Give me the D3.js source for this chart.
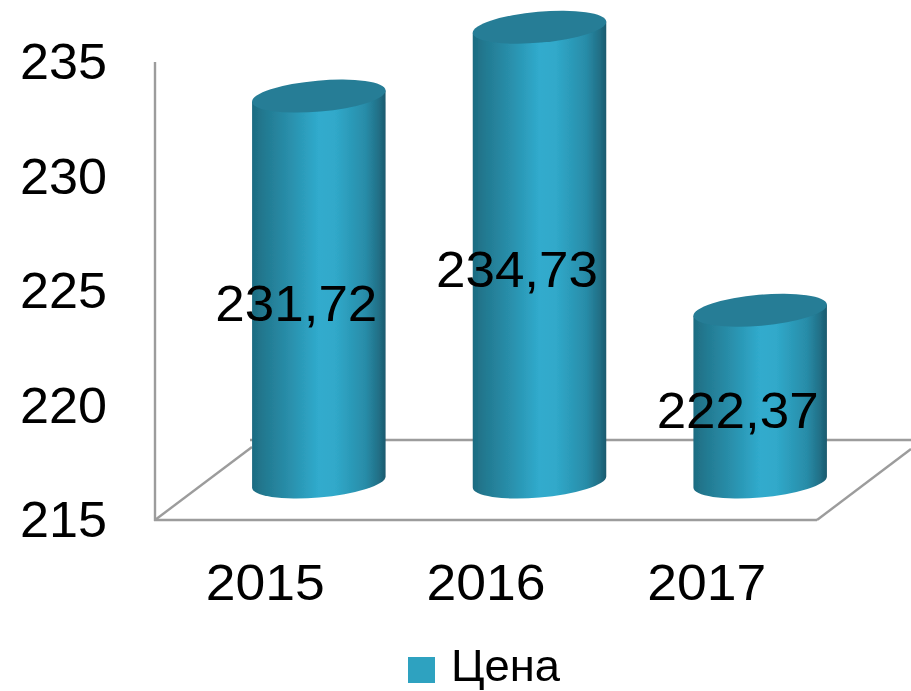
<!DOCTYPE html>
<html><head><meta charset="utf-8">
<script src="https://cdn.jsdelivr.net/npm/d3@7"></script>
<style>html,body{margin:0;padding:0;background:#fff;overflow:hidden}svg{display:block}text{font-family:"Liberation Sans",sans-serif;fill:#000}</style>
</head><body><svg width="911" height="691"></svg>
<script>
const categories = ["2015","2016","2017"];
const values = [231.72,234.73,222.37];
const valueLabels = ["231,72","234,73","222,37"];
const yTicks = [215,220,225,230,235];
const seriesName = "Цена";

const root = d3.select("svg");
const defs = root.append("defs");
defs.append("filter").attr("id","soft").attr("filterUnits","userSpaceOnUse")
  .attr("x",0).attr("y",0).attr("width",911).attr("height",691)
  .append("feGaussianBlur").attr("stdDeviation",0.6);
const svg = root.append("g").attr("filter","url(#soft)");

const x = d3.scaleBand().domain(categories).range([155,817]);
const y = d3.scaleLinear().domain([215,235]).range([520,62]);
const floorRight = x.range()[1], floorY = y(215), backY = 440;
const barDX = 53.5, baseDY = 38, topDY = 41, rx = 67, ry = 15.5, tilt = -5*Math.PI/180;
const center = c => x(c)+x.bandwidth()/2;

const grad = defs.append("linearGradient").attr("id","cyl").attr("x1",0).attr("x2",1).attr("y1",0).attr("y2",0);
[[0,"#1d6b81"],[.08,"#22788f"],[.28,"#298fab"],[.5,"#30abcd"],[.62,"#30a9ca"],[.85,"#288ca8"],[.95,"#216f86"],[1,"#1b5a6e"]]
 .forEach(([o,c])=>grad.append("stop").attr("offset",o).attr("stop-color",c));

// walls and floor
const seg = (x1,y1,x2,y2)=>svg.append("line").attr("x1",x1).attr("y1",y1).attr("x2",x2).attr("y2",y2)
  .attr("stroke","#9c9c9c").attr("stroke-width",2.4);
seg(155,y(235),155,floorY+1);
seg(154,floorY,floorRight,floorY);
seg(155,floorY,252,447);
seg(floorRight,floorY,911,449);
seg(250,backY,911,backY);

// y tick labels
svg.append("g").selectAll("text").data(yTicks).join("text")
  .attr("x",107).attr("y",d=>y(d)+17).attr("text-anchor","end")
  .attr("font-size",50).attr("textLength",87).attr("lengthAdjust","spacingAndGlyphs").text(d=>d);

// x tick labels
svg.append("g").selectAll("text").data(categories).join("text")
  .attr("x",d=>center(d)).attr("y",600).attr("text-anchor","middle")
  .attr("font-size",50).attr("textLength",119).attr("lengthAdjust","spacingAndGlyphs").text(d=>d);

// cylinders
const t0 = Math.atan2(-ry*Math.sin(tilt), rx*Math.cos(tilt));
const ex = rx*Math.cos(t0)*Math.cos(tilt)-ry*Math.sin(t0)*Math.sin(tilt);
const ey = rx*Math.cos(t0)*Math.sin(tilt)+ry*Math.sin(t0)*Math.cos(tilt);
const deg = tilt*180/Math.PI;
const bars = svg.append("g").selectAll("g").data(categories.map((c,i)=>({c,v:values[i],label:valueLabels[i]}))).join("g");
bars.append("path").attr("fill","url(#cyl)").attr("d",d=>{
  const cx=center(d.c)+barDX, top=y(d.v)-topDY, base=y(215)-baseDY;
  return `M${cx-ex},${top-ey}L${cx-ex},${base-ey}A${rx},${ry} ${deg} 0 0 ${cx+ex},${base+ey}L${cx+ex},${top+ey}Z`;
});
bars.append("ellipse").attr("fill","#267d96")
  .attr("rx",rx).attr("ry",ry)
  .attr("transform",d=>`translate(${center(d.c)+barDX},${y(d.v)-topDY}) rotate(${deg})`);
bars.append("text").attr("text-anchor","middle").attr("font-size",50)
  .attr("textLength",162).attr("lengthAdjust","spacingAndGlyphs")
  .attr("x",d=>center(d.c)+barDX-22.5)
  .attr("y",d=>(y(d.v)-topDY+y(215)-baseDY)/2+32)
  .text(d=>d.label);

// legend
svg.append("rect").attr("x",408).attr("y",657).attr("width",27).attr("height",26).attr("fill","#2ea2c0");
svg.append("text").attr("x",451).attr("y",681).attr("font-size",45).attr("textLength",109).attr("lengthAdjust","spacingAndGlyphs").text(seriesName);
</script></body></html>
